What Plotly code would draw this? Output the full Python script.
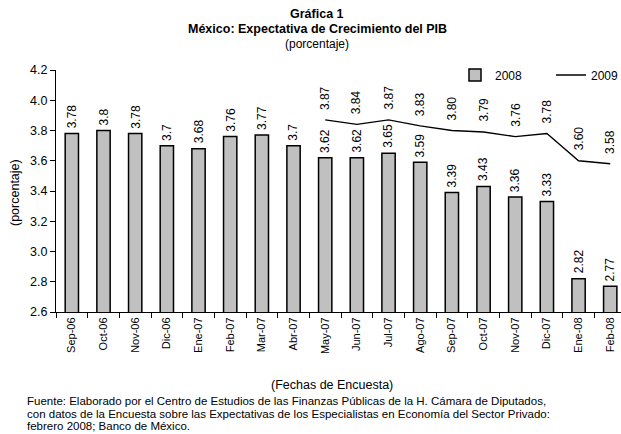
import plotly.graph_objects as go

categories = ["Sep-06", "Oct-06", "Nov-06", "Dic-06", "Ene-07", "Feb-07", "Mar-07", "Abr-07",
              "May-07", "Jun-07", "Jul-07", "Ago-07", "Sep-07", "Oct-07", "Nov-07", "Dic-07",
              "Ene-08", "Feb-08"]
values_2008 = [3.78, 3.8, 3.78, 3.7, 3.68, 3.76, 3.77, 3.7, 3.62, 3.62, 3.65, 3.59,
               3.39, 3.43, 3.36, 3.33, 2.82, 2.77]
categories_2009 = ["May-07", "Jun-07", "Jul-07", "Ago-07", "Sep-07", "Oct-07", "Nov-07",
                   "Dic-07", "Ene-08", "Feb-08"]
values_2009 = [3.87, 3.84, 3.87, 3.83, 3.80, 3.79, 3.76, 3.78, 3.60, 3.58]
y_ticks = [2.6, 2.8, 3.0, 3.2, 3.4, 3.6, 3.8, 4.0, 4.2]

FONT = "Arial, Liberation Sans, sans-serif"
W, H = 621, 434
L, R, T, B = 56, 0, 70, 122

fig = go.Figure()
fig.add_trace(go.Bar(
    x=categories, y=values_2008, name="2008", width=0.42,
    marker=dict(color="#C0C0C0", line=dict(color="black", width=1.5)),
))
fig.add_trace(go.Scatter(
    x=categories_2009, y=values_2009, name="2009", mode="lines",
    line=dict(color="black", width=1.3),
))

ann = []
for c, v in zip(categories, values_2008):
    ann.append(dict(x=c, y=v, xref="x", yref="y", text=f"{v:g}", showarrow=False,
                    textangle=-90, xanchor="center", yanchor="bottom", yshift=3,
                    font=dict(size=12, color="black", family=FONT)))
for c, v in zip(categories_2009, values_2009):
    ann.append(dict(x=c, y=v, xref="x", yref="y", text=f"{v:.2f}", showarrow=False,
                    textangle=-90, xanchor="center", yanchor="bottom", yshift=8,
                    font=dict(size=12, color="black", family=FONT)))

def px_x(p):
    return (p - L) / (W - L - R)

def px_y(p):
    return (H - B - p) / (H - T - B)

titles = [("<b>Gráfica 1</b>", 14, 12.5), ("<b>México: Expectativa de Crecimiento del PIB</b>", 29, 12.5),
          ("(porcentaje)", 44, 12)]
for txt, yy, fs in titles:
    ann.append(dict(x=px_x(317), y=px_y(yy), xref="paper", yref="paper", text=txt,
                    showarrow=False, xanchor="center", yanchor="middle",
                    font=dict(size=fs, color="black", family=FONT)))
ann.append(dict(x=px_x(15), y=px_y(193), xref="paper", yref="paper", text="(porcentaje)",
                showarrow=False, textangle=-90, xanchor="center", yanchor="middle",
                font=dict(size=12.5, color="black", family=FONT)))
ann.append(dict(x=px_x(332), y=px_y(385), xref="paper", yref="paper", text="(Fechas de Encuesta)",
                showarrow=False, xanchor="center", yanchor="middle",
                font=dict(size=12.5, color="black", family=FONT)))
footer = ["Fuente: Elaborado por el Centro de Estudios de las Finanzas Públicas de la H. Cámara de Diputados,",
          "con datos de la Encuesta sobre las Expectativas de los Especialistas en Economía del Sector Privado:",
          "febrero 2008; Banco de México."]
for i, line in enumerate(footer):
    ann.append(dict(x=px_x(25), y=px_y(401 + 12.5 * i), xref="paper", yref="paper", text=line,
                    showarrow=False, xanchor="left", yanchor="middle",
                    font=dict(size=11.5, color="black", family=FONT)))

fig.update_layout(
    width=W, height=H,
    margin=dict(l=L, r=R, t=T, b=B, pad=0, autoexpand=False),
    paper_bgcolor="white", plot_bgcolor="white",
    font=dict(family=FONT, size=12, color="black"),
    showlegend=True,
    legend=dict(orientation="h", x=px_x(455), xanchor="left", y=px_y(75), yanchor="middle",
                font=dict(size=12, family=FONT, color="black"), bgcolor="rgba(0,0,0,0)",
                itemwidth=30, entrywidth=51, entrywidthmode="pixels", borderwidth=0),
    annotations=ann,
    xaxis=dict(
        type="category", range=[-0.5, 17.34], tickangle=-90, tickson="boundaries",
        ticks="outside", ticklen=5, tickcolor="black", showline=True, linecolor="black",
        linewidth=1, showgrid=False, tickfont=dict(size=11, family=FONT, color="black"),
        fixedrange=True, automargin=False,
    ),
    yaxis=dict(
        range=[2.6, 4.2], tickvals=y_ticks, tickformat=".1f", ticks="outside", ticklen=5,
        tickcolor="black", showline=True, linecolor="black", linewidth=1, showgrid=False,
        zeroline=False, tickfont=dict(size=12.5, family=FONT, color="black"), automargin=False,
    ),
    bargap=0.58,
)

fig.write_html("out.html", config={"displayModeBar": False},
               post_script="document.body.style.margin='0px';")
